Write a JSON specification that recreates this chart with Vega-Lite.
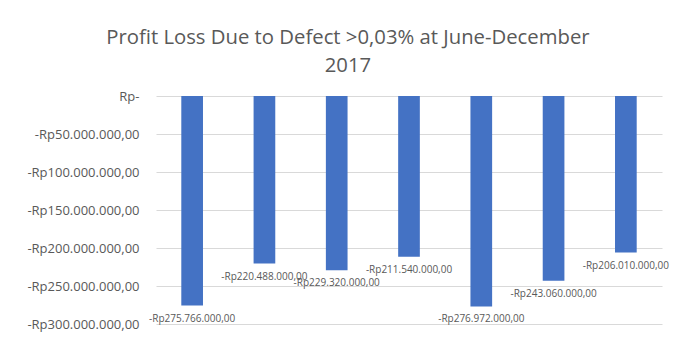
{
  "$schema": "https://vega.github.io/schema/vega-lite/v6.json",
  "autosize": "none",
  "width": 506,
  "height": 228,
  "padding": {"left": 156, "top": 96, "right": 24, "bottom": 16},
  "background": "white",
  "config": {
    "locale": {"number": {"decimal": ",", "thousands": ".", "grouping": [3], "currency": ["Rp", ""], "minus": "-"}},
    "view": {"stroke": null},
    "font": "Open Sans"
  },
  "title": {
    "text": ["Profit Loss Due to Defect >0,03% at June-December", "2017"],
    "fontSize": 20.3,
    "fontWeight": "normal",
    "color": "#595959",
    "lineHeight": 28,
    "offset": 14,
    "anchor": "middle",
    "frame": "bounds"
  },
  "data": {
    "values": [
      {"month": "June", "loss": -275766000},
      {"month": "July", "loss": -220488000},
      {"month": "August", "loss": -229320000},
      {"month": "September", "loss": -211540000},
      {"month": "October", "loss": -276972000},
      {"month": "November", "loss": -243060000},
      {"month": "December", "loss": -206010000}
    ]
  },
  "encoding": {
    "x": {"field": "month", "type": "nominal", "sort": null, "axis": null,
          "scale": {"paddingInner": 0.7, "paddingOuter": 0.35}},
    "y": {"field": "loss", "type": "quantitative",
          "scale": {"domain": [-300000000, 0], "nice": false},
          "axis": {"title": null, "values": [0, -50000000, -100000000, -150000000, -200000000, -250000000, -300000000],
                   "format": "$,.2f", "labelExpr": "datum.value == 0 ? 'Rp-' : datum.label",
                   "domain": false, "ticks": false, "labelPadding": 17, "labelFontSize": 13,
                   "labelColor": "#595959", "gridColor": "#d9d9d9", "gridWidth": 1}}
  },
  "layer": [
    {"mark": {"type": "bar", "color": "#4472c4"}},
    {"mark": {"type": "text", "fontSize": 10, "color": "#595959", "baseline": "middle", "dy": 13},
     "encoding": {"text": {"field": "loss", "type": "quantitative", "format": "$,.2f"}}}
  ]
}
